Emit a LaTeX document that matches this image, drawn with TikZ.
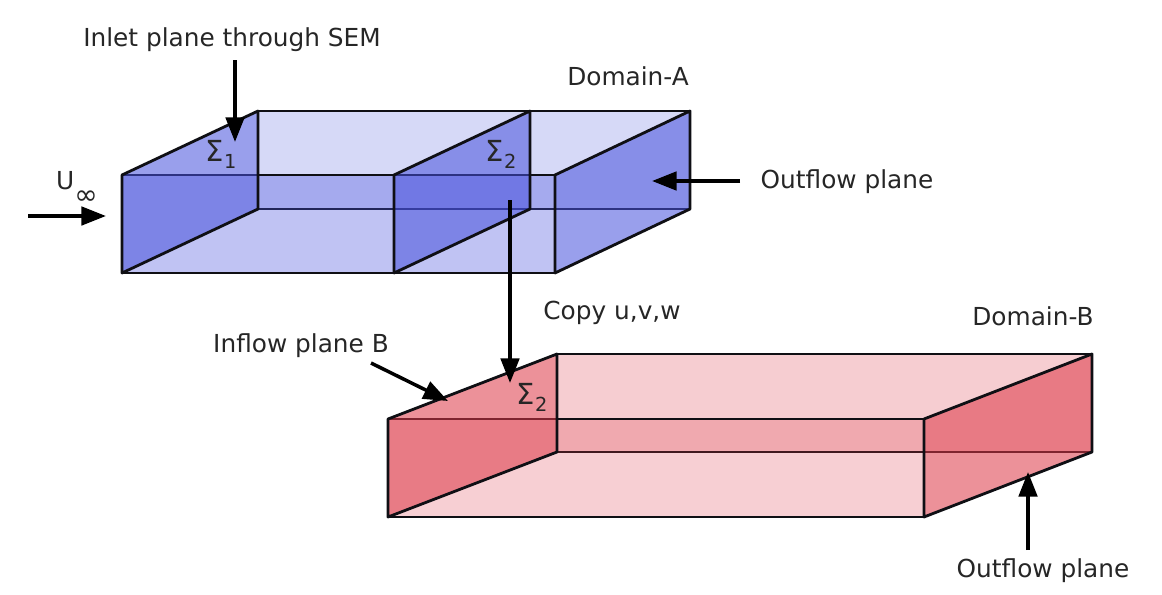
\documentclass[tikz,border=0pt]{standalone}
\usepackage{fontspec}
\setmainfont{DejaVu Sans}
\usetikzlibrary{arrows.meta}
\definecolor{bluebox}{RGB}{70, 80, 220}
\definecolor{redbox}{RGB}{220, 55, 70}
\definecolor{edge}{RGB}{15, 15, 20}
\tikzset{
    rear/.style={draw=edge, line width=1.6pt, line join=round, fill=#1, fill opacity=0.22},
    front/.style={draw=edge, line width=1.6pt, line join=round, fill=#1, fill opacity=0.34},
    plane/.style={draw=edge, line width=1.6pt, line join=round, fill=#1, fill opacity=0.55},
    pointer/.style={-{Triangle[length=14pt,width=10.5pt]}, line width=2pt, color=black},
    tag/.style={font=\fontsize{14.1}{17}\selectfont, text=black!85, inner sep=0pt},
    sigma/.style={tag, font=\fontsize{16.5}{20}\selectfont}
}
\newcommand{\lowered}[3]{#1\raisebox{#3}{#2}}
\newcommand{\smallidx}[1]{\fontsize{11}{11}\selectfont #1}
\begin{document}
\begin{tikzpicture}
            \useasboundingbox (0.00, 0.00) rectangle (23.24, 11.88);
            % Domain-A corners
            \coordinate (aFrontNW) at ( 2.44, 8.38);
            \coordinate (aFrontSW) at ( 2.44, 6.42);
            \coordinate (aFrontNE) at (11.10, 8.38);
            \coordinate (aFrontSE) at (11.10, 6.42);
            \coordinate (aBackNW)  at ( 5.16, 9.66);
            \coordinate (aBackSW)  at ( 5.16, 7.70);
            \coordinate (aBackNE)  at (13.80, 9.66);
            \coordinate (aBackSE)  at (13.80, 7.70);
            \coordinate (aMidNW)   at ( 7.88, 8.38);
            \coordinate (aMidSW)   at ( 7.88, 6.42);
            \coordinate (aMidNE)   at (10.60, 9.66);
            \coordinate (aMidSE)   at (10.60, 7.70);
            % Domain-B corners
            \coordinate (bFrontNW) at ( 7.76, 3.50);
            \coordinate (bFrontSW) at ( 7.76, 1.54);
            \coordinate (bFrontNE) at (18.48, 3.50);
            \coordinate (bFrontSE) at (18.48, 1.54);
            \coordinate (bBackNW)  at (11.14, 4.80);
            \coordinate (bBackSW)  at (11.14, 2.84);
            \coordinate (bBackNE)  at (21.84, 4.80);
            \coordinate (bBackSE)  at (21.84, 2.84);
            % Domain-A box
            \draw[rear=bluebox]   (aBackNW) rectangle (aBackSE);
            \draw[front=bluebox]  (aFrontNW) rectangle (aFrontSE);
            \draw[plane=bluebox]  (aFrontNW) -- (aBackNW) -- (aBackSW) -- (aFrontSW) -- cycle;
            \draw[plane=bluebox]  (aMidNW) -- (aMidNE) -- (aMidSE) -- (aMidSW) -- cycle;
            \draw[plane=bluebox]  (aFrontNE) -- (aBackNE) -- (aBackSE) -- (aFrontSE) -- cycle;
            % Domain-B box
            \draw[rear=redbox, fill opacity=0.25]  (bBackNW) rectangle (bBackSE);
            \draw[front=redbox, fill opacity=0.24] (bFrontNW) rectangle (bFrontSE);
            \draw[plane=redbox]   (bFrontNW) -- (bBackNW) -- (bBackSW) -- (bFrontSW) -- cycle;
            \draw[plane=redbox]   (bFrontNE) -- (bBackNE) -- (bBackSE) -- (bFrontSE) -- cycle;
            % Labels
            \node[tag] (inletLabel)   at ( 4.64,11.08) {Inlet plane through SEM};
            \node[tag] (domainA)      at (12.56,10.36) {Domain-A};
            \node[tag] (outflowA)     at (16.94, 8.24) {Outflow plane};
            \node[tag] (copyLabel)    at (12.24, 5.62) {Copy u,v,w};
            \node[tag] (domainB)      at (20.66, 5.56) {Domain-B};
            \node[tag] (inflowLabel)  at ( 6.02, 4.96) {Inflow plane B};
            \node[tag] (outflowB)     at (20.86, 0.46) {Outflow plane};
            \node[tag] (uInf)         at ( 1.54, 8.12) {\lowered{U}{\fontsize{16}{16}\selectfont ∞}{-9pt}};
            \node[sigma] (sigmaOne)   at ( 4.42, 8.80) {\lowered{Σ}{\smallidx{1}}{-4pt}};
            \node[sigma] (sigmaTwoA)  at (10.02, 8.80) {\lowered{Σ}{\smallidx{2}}{-4pt}};
            \node[sigma] (sigmaTwoB)  at (10.64, 3.94) {\lowered{Σ}{\smallidx{2}}{-4pt}};
            % Arrow ends
            \coordinate (inletTail)   at ( 4.70,10.68);
            \coordinate (inletTip)    at ( 4.70, 9.04);
            \coordinate (uTail)       at ( 0.56, 7.56);
            \coordinate (uTip)        at ( 2.12, 7.56);
            \coordinate (outATail)    at (14.80, 8.26);
            \coordinate (outATip)     at (13.04, 8.26);
            \coordinate (copyTail)    at (10.20, 7.88);
            \coordinate (copyTip)     at (10.20, 4.22);
            \coordinate (inflowTail)  at ( 7.42, 4.62);
            \coordinate (inflowTip)   at ( 8.96, 3.86);
            \coordinate (outBTail)    at (20.56, 0.88);
            \coordinate (outBTip)     at (20.56, 2.44);
            % Arrows
            \draw[pointer] (inletTail)  -- (inletTip);
            \draw[pointer] (uTail)      -- (uTip);
            \draw[pointer] (outATail)   -- (outATip);
            \draw[pointer] (copyTail)   -- (copyTip);
            \draw[pointer] (inflowTail) -- (inflowTip);
            \draw[pointer] (outBTail)   -- (outBTip);
\end{tikzpicture}
\end{document}
